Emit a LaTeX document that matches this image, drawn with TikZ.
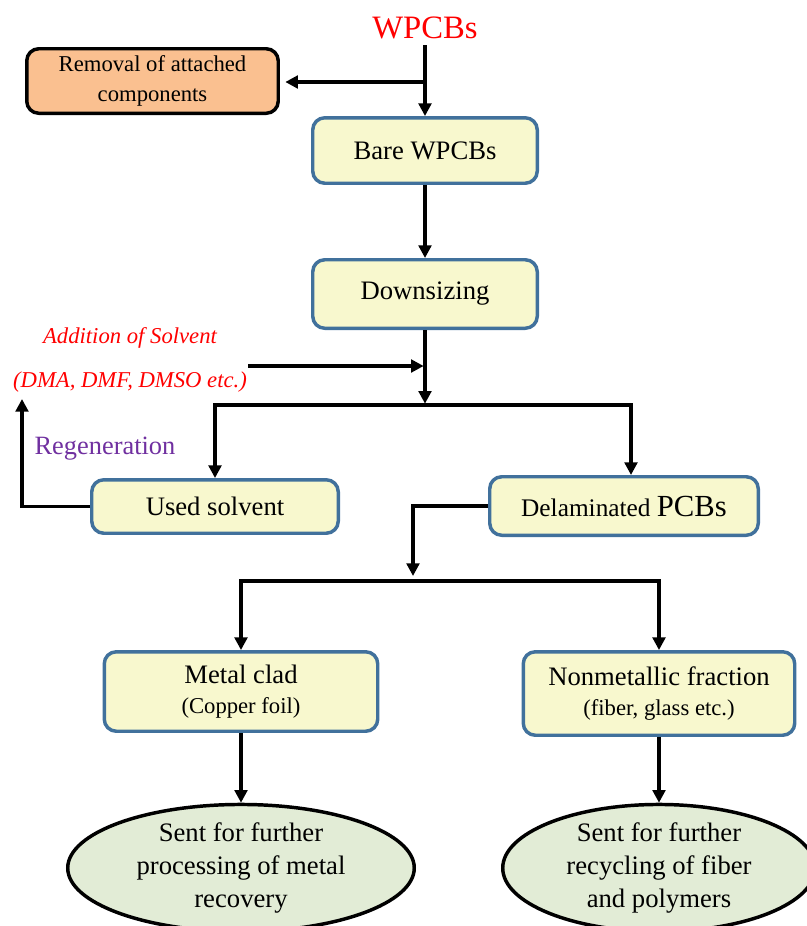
\documentclass[tikz,border=0pt]{standalone}
\usepackage{fontspec}
\setmainfont{Liberation Serif}
\usetikzlibrary{arrows.meta,shapes.geometric}
\definecolor{boxfill}{RGB}{248,248,206}
\definecolor{boxedge}{RGB}{65,113,156}
\definecolor{orangefill}{RGB}{250,192,144}
\definecolor{ovalfill}{RGB}{226,236,214}
\definecolor{regen}{RGB}{112,48,160}
\begin{document}
\begin{tikzpicture}[x=0.75pt,y=-0.75pt,
  stagebox/.style={draw=boxedge, fill=boxfill, line width=2.6pt, rounded corners=9pt,
    align=center, inner sep=0pt, font=\fontsize{20}{24}\selectfont},
  removalbox/.style={draw=black, fill=orangefill, line width=2.6pt, rounded corners=9pt,
    align=center, inner sep=0pt, font=\fontsize{17}{22.5}\selectfont},
  oval/.style={ellipse, draw=black, fill=ovalfill, line width=2.6pt, align=center,
    inner sep=0pt, font=\fontsize{20}{24.5}\selectfont},
  subline/.style={font=\fontsize{17}{20}\selectfont},
  flow/.style={line width=2.5pt, -{Triangle[length=9.5pt,width=9.5pt]}},
  twoway/.style={line width=2.5pt, {Triangle[length=9.5pt,width=9.5pt]}-{Triangle[length=9.5pt,width=9.5pt]}},
  solventnote/.style={text=red, font=\fontsize{17}{20}\selectfont\itshape, inner sep=0pt}
]
\useasboundingbox (0,0) rectangle (807,926);
\clip (0,0) rectangle (807,926);

% process stages
\node[text=red, font=\fontsize{24.5}{28}\selectfont, anchor=base, inner sep=4.5pt] (wpcb) at (425,38.5) {WPCBs};
\node[removalbox, minimum width=188.6pt, minimum height=48.4pt] (removal) at (152.5,81) {Removal of attached\\components};
\node[stagebox, minimum width=168.4pt, minimum height=49.1pt] (bare) at (425,150.5) {Bare WPCBs};
\node[stagebox, minimum width=168.4pt, minimum height=51.4pt] (down) at (425,294) {Downsizing};
\node[stagebox, minimum width=184.9pt, minimum height=40.1pt] (used) at (215,506.5) {Used solvent};
\node[stagebox, minimum width=201.4pt, minimum height=43.9pt, font=\fontsize{19}{23}\selectfont] (delam) at (624,506)
  {Delaminated {\fontsize{23}{26}\selectfont PCBs}};
\node[stagebox, minimum width=205.1pt, minimum height=59.6pt] (metal) at (241,691.5)
  {Metal clad\\[-2pt]{\fontsize{17}{20}\selectfont (Copper foil)}};
\node[stagebox, minimum width=203.6pt, minimum height=62.6pt] (nonmetal) at (659,693.5)
  {Nonmetallic fraction\\[-2pt]{\fontsize{17}{20}\selectfont (fiber, glass etc.)}};
\node[oval, minimum width=259.9pt, minimum height=91.9pt] (oval1) at (241,868)
  {Sent for further\\processing of metal\\recovery};
\node[oval, minimum width=234.4pt, minimum height=91.9pt] (oval2) at (659,868)
  {Sent for further\\recycling of fiber\\and polymers};

% side notes
\node[solventnote] (addition) at (130,338) {Addition of Solvent};
\node[solventnote] (dma) at (130,382) {(DMA, DMF, DMSO etc.)};
\node[text=regen, font=\fontsize{19.8}{23}\selectfont, inner sep=0pt] (regentext) at (105,449) {Regeneration};

% junction points
\coordinate (split) at (425,82);
\coordinate (solv) at (248,366);
\coordinate (hub1) at (425,405);
\coordinate (busR) at (631,405);
\coordinate (regtip) at (22,399);
\coordinate (drop) at (413,576);
\coordinate (b2R) at (659,581);

% connectors
\draw[flow] (wpcb.south) -- (bare.north);
\draw[flow, shorten >=4pt] (split) -- (split -| removal.east);
\draw[flow] (bare) -- (down);
\draw[flow] (down.south) -- ([yshift=1pt]hub1);
\draw[flow, shorten >=1pt] (solv) -- (solv -| down.south);
\draw[twoway] (used.north) |- (busR) -- (busR |- delam.north);
\draw[flow] (used.west) -| (regtip);
\draw[flow] (delam.west) -| (drop);
\draw[twoway] (metal.north) |- (b2R) -- (nonmetal.north);
\draw[flow] (metal) -- (oval1);
\draw[flow] (nonmetal) -- (oval2);
\end{tikzpicture}
\end{document}
